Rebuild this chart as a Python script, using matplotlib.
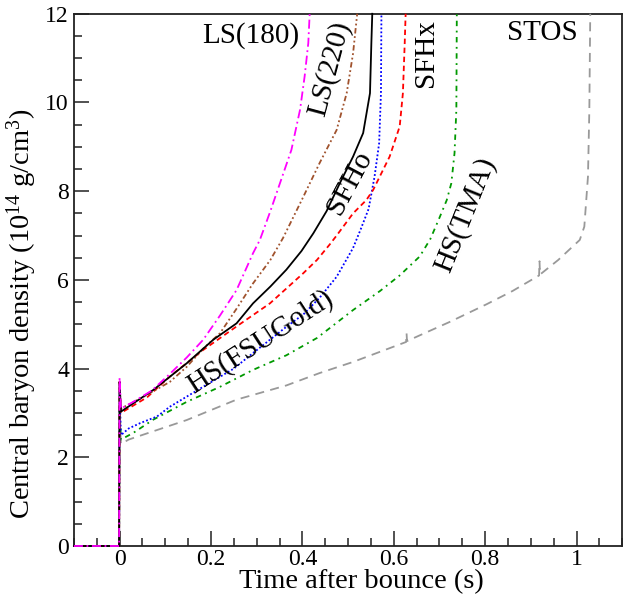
import numpy as np
import matplotlib
matplotlib.use('Agg')
import matplotlib.pyplot as plt
from matplotlib.ticker import MultipleLocator

plt.rcParams['font.family'] = ['Liberation Serif', 'DejaVu Serif']
plt.rcParams['mathtext.fontset'] = 'custom'
plt.rcParams['mathtext.rm'] = 'Liberation Serif'
plt.rcParams['mathtext.default'] = 'rm'

# time after bounce (s) and central density (1e14 g/cm^3)
t_ls180 = [-0.1, -0.001, 0.0, 0.003, 0.03, 0.07, 0.11, 0.147, 0.183, 0.22, 0.256, 0.292, 0.307, 0.33, 0.351, 0.376, 0.395, 0.405, 0.413, 0.416]
rho_ls180 = [0, 0, 3.8, 3.1, 3.25, 3.5, 3.88, 4.25, 4.65, 5.2, 5.77, 6.6, 6.9, 7.55, 8.18, 8.93, 9.84, 10.59, 11.34, 12.0]

t_ls220 = [-0.1, -0.001, 0.0, 0.003, 0.05, 0.11, 0.147, 0.183, 0.22, 0.256, 0.292, 0.33, 0.358, 0.401, 0.438, 0.475, 0.497, 0.511, 0.52]
rho_ls220 = [0, 0, 3.6, 3.1, 3.35, 3.7, 4.04, 4.45, 4.8, 5.35, 5.92, 6.45, 6.95, 7.85, 8.64, 9.38, 10.21, 11.11, 12.0]

t_sfho = [-0.1, -0.001, 0.0, 0.003, 0.074, 0.147, 0.205, 0.256, 0.292, 0.33, 0.365, 0.398, 0.424, 0.453, 0.482, 0.511, 0.533, 0.548, 0.551, 0.553]
rho_sfho = [0, 0, 3.7, 3.03, 3.52, 4.12, 4.65, 5.02, 5.47, 5.85, 6.23, 6.65, 7.05, 7.55, 8.18, 8.78, 9.31, 10.21, 11.34, 12.0]

t_sfhx = [-0.1, -0.001, 0.0, 0.003, 0.06, 0.11, 0.183, 0.256, 0.329, 0.402, 0.432, 0.46, 0.475, 0.511, 0.54, 0.555, 0.591, 0.613, 0.62, 0.624, 0.626]
rho_sfhx = [0, 0, 3.7, 3.0, 3.35, 3.82, 4.42, 4.95, 5.47, 6.15, 6.45, 6.8, 7.0, 7.5, 7.8, 8.03, 8.78, 9.46, 10.21, 11.34, 12.0]

t_fsu = [-0.1, -0.001, 0.0, 0.003, 0.02, 0.045, 0.082, 0.11, 0.183, 0.25, 0.292, 0.366, 0.402, 0.438, 0.475, 0.511, 0.528, 0.545, 0.558, 0.568, 0.572, 0.573]
rho_fsu = [0, 0, 3.5, 2.5, 2.65, 2.77, 2.92, 3.14, 3.59, 4.0, 4.35, 4.95, 5.22, 5.6, 6.07, 6.72, 7.15, 7.6, 8.33, 9.08, 10.21, 12.0]

t_tma = [-0.1, -0.001, 0.0, 0.003, 0.03, 0.074, 0.147, 0.22, 0.292, 0.365, 0.432, 0.511, 0.57, 0.613, 0.657, 0.68, 0.7, 0.716, 0.726, 0.733, 0.737, 0.738]
rho_tma = [0, 0, 3.2, 2.4, 2.55, 2.85, 3.25, 3.59, 3.97, 4.3, 4.69, 5.32, 5.75, 6.1, 6.53, 6.92, 7.4, 7.8, 8.18, 8.86, 9.84, 12.0]

t_stos = [-0.1, -0.001, 0.0, 0.003, 0.02, 0.147, 0.256, 0.365, 0.438, 0.511, 0.627, 0.628, 0.629, 0.657, 0.722, 0.803, 0.86, 0.918, 0.919, 0.92, 0.96, 1.007, 1.017, 1.025, 1.028, 1.03]
rho_stos = [0, 0, 3.0, 2.3, 2.4, 2.84, 3.3, 3.62, 3.9, 4.15, 4.6, 4.8, 4.62, 4.75, 5.05, 5.45, 5.75, 6.1, 6.42, 6.12, 6.45, 6.9, 7.2, 8.33, 9.84, 12.0]

series = [
    (t_stos, rho_stos, '#999999', (0, (5, 3.5))),
    (t_tma, rho_tma, '#009900', (0, (3, 2.5, 1, 2.5))),
    (t_fsu, rho_fsu, '#0000ff', (0, (1, 1.2))),
    (t_sfhx, rho_sfhx, '#ff0000', (0, (3, 2))),
    (t_ls220, rho_ls220, '#a0522d', (0, (3, 1.5, 1, 1.5, 1, 1.5))),
    (t_sfho, rho_sfho, 'black', '-'),
    (t_ls180, rho_ls180, '#ff00ff', (0, (5, 2, 1, 2))),
]

fig = plt.figure(figsize=(6.26, 5.99), dpi=100)
ax = fig.add_axes([0.118, 0.0885, 0.876, 0.8885])

for t, rho, c, ls in series:
    ax.plot(t, rho, color=c, linestyle=ls, linewidth=1.3, clip_on=False, zorder=3)

ax.set_xlim(-0.1, 1.1)
ax.set_ylim(0, 12)
ax.xaxis.set_minor_locator(MultipleLocator(0.05))
ax.yaxis.set_major_locator(MultipleLocator(2))
ax.yaxis.set_minor_locator(MultipleLocator(0.5))
ax.set_xticks([0, 0.2, 0.4, 0.6, 0.8, 1.0])
ax.set_xticklabels(['0', '0.2', '0.4', '0.6', '0.8', '1'])
ax.tick_params(which='both', direction='in', top=False, right=False, labelsize=17, width=1.2, color='#333333')
ax.tick_params(axis='x', pad=2.5)
ax.tick_params(which='major', length=11)
ax.tick_params(which='minor', length=6)
for sp in ax.spines.values():
    sp.set_linewidth(1.3)
    sp.set_color('#222222')

ax.set_xlabel('Time after bounce (s)', fontsize=20.5)
ax.set_ylabel('Central baryon density (10$^{14}$ g/cm$^{3}$)', fontsize=20.5)
ax.xaxis.set_label_coords(0.524, -0.043)
ax.yaxis.set_label_coords(-0.063, 0.436)

ax.text(0.287, 11.5, 'LS(180)', fontsize=21, ha='center', va='center')
ax.text(0.46, 10.75, 'LS(220)', fontsize=21, ha='center', va='center', rotation=75)
ax.text(0.67, 11.12, 'SFHx', fontsize=21, ha='center', va='center', rotation=90)
ax.text(0.925, 11.57, 'STOS', fontsize=21, ha='center', va='center')
ax.text(0.504, 8.19, 'SFHo', fontsize=21, ha='center', va='center', rotation=62)
ax.text(0.757, 7.47, 'HS(TMA)', fontsize=21, ha='center', va='center', rotation=68)
ax.text(0.307, 4.6, 'HS(FSUGold)', fontsize=21, ha='center', va='center', rotation=33)

fig.savefig('out.png', dpi=100)
